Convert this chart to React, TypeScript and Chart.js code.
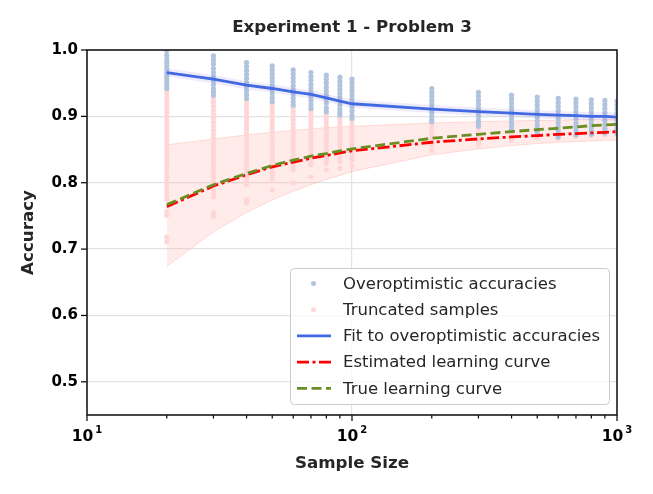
import React, { useEffect, useRef } from 'react';
import { Chart, registerables } from 'chart.js';

Chart.register(...registerables);

const sampleSizes = [20, 30, 40, 50, 60, 70, 80, 90, 100, 200, 300, 400, 500, 600, 700, 800, 900, 1000];

// accuracies above the truncation cut-off, one column per sample size
const overoptimistic: number[][] = [
  [0.999, 0.992, 0.986, 0.981, 0.976, 0.971, 0.966, 0.961, 0.956, 0.951, 0.946, 0.942],
  [0.991, 0.985, 0.979, 0.972, 0.966, 0.96, 0.954, 0.948, 0.942, 0.937, 0.932],
  [0.981, 0.975, 0.969, 0.963, 0.957, 0.951, 0.945, 0.939, 0.933, 0.927],
  [0.976, 0.97, 0.964, 0.958, 0.952, 0.946, 0.94, 0.934, 0.928, 0.922],
  [0.97, 0.964, 0.958, 0.952, 0.946, 0.94, 0.934, 0.928, 0.922, 0.917],
  [0.966, 0.96, 0.954, 0.948, 0.942, 0.936, 0.93, 0.924, 0.918, 0.912],
  [0.962, 0.956, 0.95, 0.944, 0.938, 0.932, 0.926, 0.92, 0.913, 0.907],
  [0.959, 0.953, 0.947, 0.941, 0.935, 0.929, 0.923, 0.917, 0.911, 0.906, 0.902],
  [0.956, 0.95, 0.944, 0.938, 0.932, 0.926, 0.92, 0.914, 0.908, 0.902, 0.897],
  [0.942, 0.936, 0.93, 0.924, 0.918, 0.912, 0.906, 0.9, 0.895, 0.892],
  [0.936, 0.93, 0.924, 0.918, 0.912, 0.906, 0.9, 0.894, 0.889, 0.885],
  [0.932, 0.926, 0.92, 0.914, 0.908, 0.902, 0.896, 0.89, 0.885, 0.88],
  [0.929, 0.923, 0.917, 0.911, 0.905, 0.899, 0.893, 0.887, 0.881, 0.876, 0.872],
  [0.927, 0.921, 0.915, 0.909, 0.903, 0.897, 0.891, 0.885, 0.879, 0.874, 0.869],
  [0.926, 0.92, 0.914, 0.908, 0.902, 0.896, 0.89, 0.884, 0.878, 0.872],
  [0.925, 0.919, 0.913, 0.907, 0.901, 0.895, 0.889, 0.883, 0.878, 0.873],
  [0.924, 0.918, 0.912, 0.906, 0.9, 0.894, 0.888, 0.882, 0.878, 0.875],
  [0.923, 0.917, 0.911, 0.905, 0.899, 0.893, 0.887, 0.881, 0.877, 0.874],
];

// accuracies of the truncated samples, one column per sample size
const truncated: number[][] = [
  [0.936, 0.93, 0.924, 0.918, 0.912, 0.906, 0.9, 0.894, 0.888, 0.882, 0.876, 0.87, 0.864, 0.858, 0.852, 0.846,
    0.84, 0.834, 0.828, 0.822, 0.816, 0.81, 0.804, 0.798, 0.792, 0.786, 0.78, 0.775, 0.757, 0.751, 0.718, 0.711],
  [0.927, 0.921, 0.915, 0.909, 0.903, 0.897, 0.891, 0.885, 0.879, 0.873, 0.867, 0.861, 0.855, 0.849, 0.843,
    0.837, 0.831, 0.825, 0.819, 0.813, 0.807, 0.801, 0.795, 0.789, 0.783, 0.779, 0.755, 0.749],
  [0.922, 0.916, 0.91, 0.904, 0.898, 0.892, 0.886, 0.88, 0.874, 0.868, 0.862, 0.856, 0.85, 0.844, 0.838, 0.832,
    0.826, 0.82, 0.814, 0.808, 0.802, 0.797, 0.775, 0.77],
  [0.918, 0.912, 0.906, 0.9, 0.894, 0.888, 0.882, 0.876, 0.87, 0.864, 0.858, 0.852, 0.846, 0.84, 0.834, 0.828,
    0.822, 0.816, 0.812, 0.806, 0.789],
  [0.913, 0.907, 0.901, 0.895, 0.889, 0.883, 0.877, 0.871, 0.865, 0.859, 0.853, 0.847, 0.841, 0.835, 0.829,
    0.823, 0.819, 0.8],
  [0.908, 0.902, 0.896, 0.89, 0.884, 0.878, 0.872, 0.866, 0.86, 0.854, 0.848, 0.842, 0.836, 0.831, 0.827, 0.809],
  [0.903, 0.897, 0.891, 0.885, 0.879, 0.873, 0.867, 0.861, 0.855, 0.849, 0.843, 0.837, 0.833, 0.829, 0.819],
  [0.898, 0.892, 0.886, 0.88, 0.874, 0.868, 0.862, 0.856, 0.85, 0.844, 0.838, 0.832, 0.822],
  [0.893, 0.887, 0.881, 0.875, 0.869, 0.863, 0.857, 0.851, 0.845, 0.839, 0.834, 0.825],
  [0.889, 0.883, 0.877, 0.871, 0.865, 0.86, 0.857, 0.849],
  [0.882, 0.876, 0.87, 0.865, 0.862, 0.857],
  [0.877, 0.872, 0.868, 0.864],
  [0.87, 0.867],
  [0.867],
  [0.87],
  [0.871],
  [0.872],
  [0.872],
];

const fitCurve = [0.966, 0.956, 0.947, 0.942, 0.937, 0.933, 0.928, 0.923, 0.919, 0.911, 0.907, 0.905, 0.903, 0.902,
  0.901, 0.9, 0.9, 0.899];
const estimatedCurve = [0.764, 0.795, 0.812, 0.824, 0.831, 0.837, 0.841, 0.845, 0.848, 0.861, 0.866, 0.869, 0.871,
  0.873, 0.874, 0.875, 0.876, 0.877];
const trueCurve = [0.767, 0.797, 0.814, 0.826, 0.834, 0.84, 0.844, 0.848, 0.851, 0.867, 0.873, 0.877, 0.88, 0.882,
  0.884, 0.886, 0.887, 0.888];
const bandUpper = [0.857, 0.866, 0.872, 0.876, 0.879, 0.881, 0.883, 0.884, 0.885, 0.89, 0.892, 0.893, 0.894, 0.894,
  0.895, 0.895, 0.895, 0.896];
const bandLower = [0.674, 0.726, 0.755, 0.774, 0.787, 0.797, 0.805, 0.811, 0.817, 0.842, 0.851, 0.856, 0.859, 0.861,
  0.862, 0.863, 0.864, 0.864];

const xTicks = [10, 20, 30, 40, 50, 60, 70, 80, 90, 100, 200, 300, 400, 500, 600, 700, 800, 900, 1000];
// major x ticks are written as base 10 with a superscript exponent
const xMajorExponents: Record<number, string> = { 10: '1', 100: '2', 1000: '3' };
const yTicks = [0.5, 0.6, 0.7, 0.8, 0.9, 1.0];

const legendItems = [
  { label: 'Overoptimistic accuracies', kind: 'dot', color: '#b0c4de' },
  { label: 'Truncated samples', kind: 'dot', color: '#ffd6d6' },
  { label: 'Fit to overoptimistic accuracies', kind: 'line', color: '#4169e1', dash: [] as number[] },
  { label: 'Estimated learning curve', kind: 'line', color: '#ff0000', dash: [12, 3.5, 3, 3.5] },
  { label: 'True learning curve', kind: 'line', color: '#6b8e23', dash: [10, 4.5] },
];

const toPoints = (ys: number[]) => ys.map((y, i) => ({ x: sampleSizes[i], y }));
const columnPoints = (cols: number[][]) =>
  cols.flatMap((col, i) => col.map((y) => ({ x: sampleSizes[i], y })));

const textColor = '#262626';
const font = '"DejaVu Sans", sans-serif';

const decorPlugin = {
  id: 'decor',
  afterDraw(chart: any) {
    const { ctx, chartArea: a, scales } = chart;
    ctx.save();

    // tick marks
    ctx.strokeStyle = '#000';
    ctx.lineWidth = 1.2;
    xTicks.forEach((v) => {
      const x = scales.x.getPixelForValue(v);
      const len = xMajorExponents[v] ? 6 : 3.5;
      ctx.beginPath();
      ctx.moveTo(x, a.bottom);
      ctx.lineTo(x, a.bottom + len);
      ctx.stroke();
    });
    yTicks.forEach((v) => {
      const y = scales.y.getPixelForValue(v);
      ctx.beginPath();
      ctx.moveTo(a.left - 6, y);
      ctx.lineTo(a.left, y);
      ctx.stroke();
    });

    // x tick labels: 10 with a raised exponent
    ctx.fillStyle = '#000';
    ctx.textBaseline = 'alphabetic';
    ctx.textAlign = 'left';
    Object.keys(xMajorExponents).forEach((k) => {
      const v = Number(k);
      const x = scales.x.getPixelForValue(v);
      ctx.font = `bold 15.5px ${font}`;
      const wBase = ctx.measureText('10').width;
      ctx.font = `bold 10px ${font}`;
      const wExp = ctx.measureText(xMajorExponents[v]).width;
      const start = x - (wBase + wExp + 2) / 2;
      ctx.font = `bold 15.5px ${font}`;
      ctx.fillText('10', start, a.bottom + 25.5);
      ctx.font = `bold 10px ${font}`;
      ctx.fillText(xMajorExponents[v], start + wBase + 2, a.bottom + 17.5);
    });

    // frame
    ctx.strokeStyle = '#1a1a1a';
    ctx.lineWidth = 1.6;
    ctx.strokeRect(a.left, a.top, a.right - a.left, a.bottom - a.top);

    // title and axis titles
    ctx.fillStyle = textColor;
    ctx.font = `bold 16.7px ${font}`;
    ctx.textAlign = 'center';
    ctx.textBaseline = 'middle';
    const cx = (a.left + a.right) / 2;
    ctx.fillText('Experiment 1 - Problem 3', cx, 28);
    ctx.fillText('Sample Size', cx, 464);
    ctx.save();
    ctx.translate(29, (a.top + a.bottom) / 2);
    ctx.rotate(-Math.PI / 2);
    ctx.fillText('Accuracy', 0, 0);
    ctx.restore();

    // legend box
    const bx = 290.5, by = 268.5, bw = 319, bh = 136;
    ctx.beginPath();
    ctx.roundRect(bx, by, bw, bh, 4);
    ctx.fillStyle = 'rgba(255,255,255,0.8)';
    ctx.fill();
    ctx.strokeStyle = '#cccccc';
    ctx.lineWidth = 1;
    ctx.stroke();

    ctx.font = `16.5px ${font}`;
    ctx.textAlign = 'left';
    legendItems.forEach((item, i) => {
      const y = 283.5 + i * 26.2;
      if (item.kind === 'dot') {
        ctx.beginPath();
        ctx.arc(313.5, y, 2.5, 0, Math.PI * 2);
        ctx.fillStyle = item.color;
        ctx.fill();
      } else {
        ctx.beginPath();
        ctx.setLineDash(item.dash || []);
        ctx.strokeStyle = item.color;
        ctx.lineWidth = 2.8;
        ctx.moveTo(297, y);
        ctx.lineTo(331, y);
        ctx.stroke();
        ctx.setLineDash([]);
      }
      ctx.fillStyle = textColor;
      ctx.fillText(item.label, 343, y + 1);
    });

    ctx.restore();
  },
};

const App: React.FC = () => {
  const canvasRef = useRef<HTMLCanvasElement>(null);

  useEffect(() => {
    if (!canvasRef.current) return;
    const chart = new Chart(canvasRef.current, {
      type: 'scatter',
      data: {
        datasets: [
          {
            type: 'line',
            label: 'True learning curve',
            data: toPoints(trueCurve),
            borderColor: '#6b8e23',
            borderWidth: 2.8,
            borderDash: [10, 4.5],
            pointRadius: 0,
            fill: false,
            order: 1,
          },
          {
            type: 'line',
            label: 'Estimated learning curve',
            data: toPoints(estimatedCurve),
            borderColor: '#ff0000',
            borderWidth: 2.8,
            borderDash: [12, 3.5, 3, 3.5],
            pointRadius: 0,
            fill: false,
            order: 2,
          },
          {
            type: 'line',
            label: 'Fit to overoptimistic accuracies',
            data: toPoints(fitCurve),
            borderColor: '#4169e1',
            borderWidth: 2.8,
            pointRadius: 0,
            fill: false,
            order: 3,
          },
          {
            type: 'line',
            label: 'fit halo',
            data: toPoints(fitCurve),
            borderColor: 'rgba(120,110,220,0.13)',
            borderWidth: 8,
            pointRadius: 0,
            fill: false,
            order: 4,
          },
          {
            label: 'Overoptimistic accuracies',
            data: columnPoints(overoptimistic),
            backgroundColor: '#b0c4de',
            borderWidth: 0,
            pointRadius: 2.6,
            order: 5,
          },
          {
            label: 'Truncated samples',
            data: columnPoints(truncated),
            backgroundColor: '#ffd6d6',
            borderWidth: 0,
            pointRadius: 2.6,
            order: 6,
          },
          {
            type: 'line',
            label: 'band lower',
            data: toPoints(bandLower),
            borderColor: 'rgba(255,160,150,0.35)',
            borderWidth: 1,
            pointRadius: 0,
            fill: false,
            order: 7,
          },
          {
            type: 'line',
            label: 'band upper',
            data: toPoints(bandUpper),
            borderColor: 'rgba(255,160,150,0.35)',
            backgroundColor: 'rgba(255,160,150,0.2)',
            borderWidth: 1,
            pointRadius: 0,
            fill: '-1',
            order: 8,
          },
        ],
      },
      options: {
        animation: false,
        responsive: false,
        events: [],
        layout: { padding: { top: 50, right: 36, left: 0, bottom: 0 } },
        plugins: {
          legend: { display: false },
          tooltip: { enabled: false },
        },
        scales: {
          x: {
            type: 'logarithmic',
            min: 10,
            max: 1000,
            afterBuildTicks: (scale: any) => {
              scale.ticks = xTicks.map((v) => ({ value: v }));
            },
            afterFit: (scale: any) => {
              scale.height = 79;
            },
            ticks: {
              autoSkip: false,
              maxRotation: 0,
              callback: () => '',
            },
            grid: {
              color: (c: any) => (c.tick && c.tick.value === 100 ? '#e3e3e3' : 'rgba(0,0,0,0)'),
              lineWidth: 1.2,
              drawTicks: false,
            },
            border: { display: false },
          },
          y: {
            type: 'linear',
            min: 0.45,
            max: 1.0,
            afterBuildTicks: (scale: any) => {
              scale.ticks = yTicks.map((v) => ({ value: v }));
            },
            afterFit: (scale: any) => {
              scale.width = 87;
            },
            ticks: {
              padding: 9,
              color: '#000',
              font: { family: 'DejaVu Sans', size: 15, weight: 'bold' },
              callback: (v: any) => Number(v).toFixed(1),
            },
            grid: {
              color: '#e3e3e3',
              lineWidth: 1.2,
              drawTicks: false,
            },
            border: { display: false },
          },
        },
      },
      plugins: [decorPlugin],
    } as any);

    return () => {
      chart.destroy();
    };
  }, []);

  return (
    <div style={{ position: 'fixed', left: 0, top: 0, width: 653, height: 494, background: '#fff' }}>
      <canvas ref={canvasRef} width={653} height={494} style={{ display: 'block' }} />
    </div>
  );
};

export default App;
